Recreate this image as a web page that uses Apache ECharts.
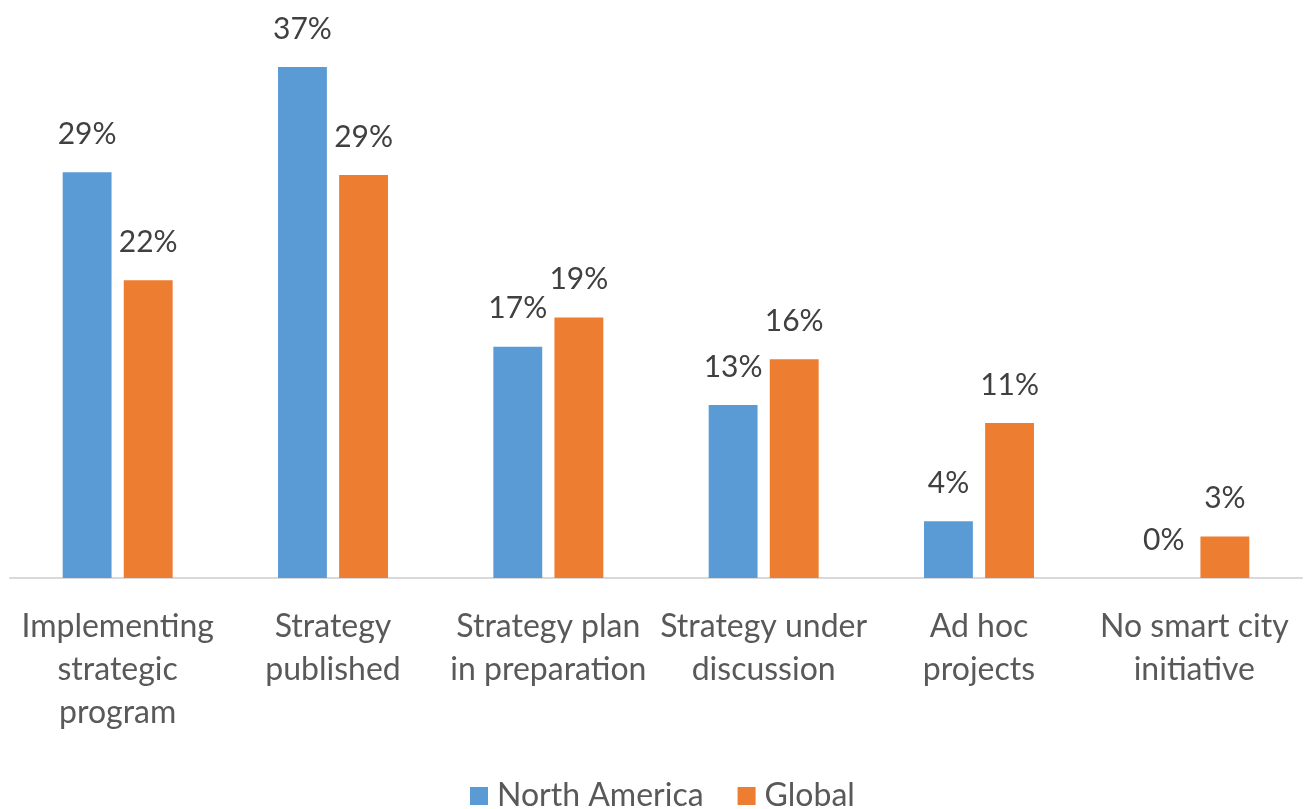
<!DOCTYPE html>
<html><head><meta charset="utf-8">
<script src="https://cdn.jsdelivr.net/npm/echarts@6/dist/echarts.min.js"></script>
<style>html,body{margin:0;padding:0;background:#fff}#c{width:1305px;height:809px}</style>
</head><body><div id="c"></div>
<script>
const categories = ['Implementing\nstrategic\nprogram','Strategy\npublished','Strategy plan\nin preparation','Strategy under\ndiscussion','Ad hoc\nprojects','No smart city\ninitiative'];
const northAmerica = [29.3, 36.9, 16.7, 12.5, 4.1, 0];
const globalVals = [21.5, 29.1, 18.8, 15.8, 11.2, 3.0];
const seriesNames = ['North America','Global'];
const FONT = 'Lato';
const chart = echarts.init(document.getElementById('c'));
const lbl = {show:true, position:'top', distance:23, color:'#404040', fontFamily:FONT, fontSize:30,
  formatter: p => Math.round(p.value) + '%'};
chart.setOption({
  animation:false,
  textStyle:{fontFamily:FONT},
  grid:{left:10,right:3,top:24,bottom:231},
  legend:{bottom:-8,left:465,itemWidth:18,itemHeight:18,itemGap:34,icon:'rect',
    textStyle:{fontFamily:FONT,fontSize:32,color:'#595959',padding:[0,0,0,4]}},
  xAxis:{type:'category',data:categories,axisTick:{show:false},
    axisLine:{lineStyle:{color:'#D9D9D9',width:2}},
    axisLabel:{interval:0,margin:27,fontFamily:FONT,fontSize:32,color:'#595959',lineHeight:43}},
  yAxis:{type:'value',min:0,max:40,show:false,splitLine:{show:false}},
  series:[
    {name:seriesNames[0],type:'bar',data:northAmerica,barWidth:'22.7%',barGap:'25%',
     itemStyle:{color:'#5B9BD5'},label:lbl},
    {name:seriesNames[1],type:'bar',data:globalVals,barWidth:'22.7%',barGap:'25%',
     itemStyle:{color:'#ED7D31'},label:lbl}
  ]
});
</script></body></html>
